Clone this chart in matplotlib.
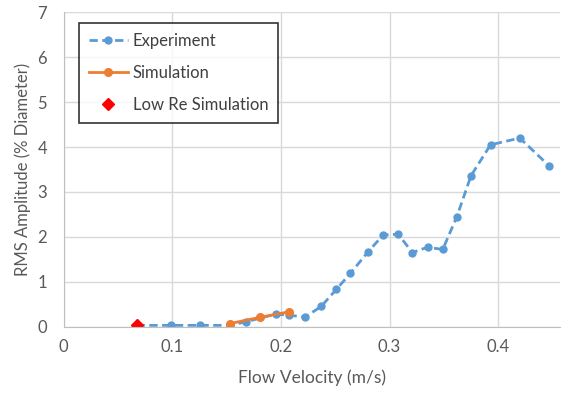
import matplotlib
matplotlib.use("Agg")
import matplotlib.pyplot as plt

exp_x = [0.067, 0.099, 0.125, 0.153, 0.168, 0.195, 0.207, 0.222, 0.237, 0.251, 0.264,
         0.280, 0.294, 0.308, 0.321, 0.335, 0.349, 0.362, 0.375, 0.393, 0.420, 0.447]
exp_y = [0.03, 0.03, 0.03, 0.03, 0.11, 0.28, 0.26, 0.21, 0.45, 0.83, 1.19,
         1.66, 2.04, 2.06, 1.65, 1.77, 1.72, 2.45, 3.36, 4.05, 4.20, 3.58]
sim_x = [0.153, 0.181, 0.207]
sim_y = [0.07, 0.21, 0.33]
low_x = [0.067]
low_y = [0.04]

plt.rcParams['font.family'] = ['Lato', 'DejaVu Sans']
fig = plt.figure(figsize=(5.61, 3.96), dpi=100)
ax = fig.add_axes([63.8/561, 1-326.7/396, (560-63.8)/561, (326.7-12.3)/396])

ax.plot(exp_x, exp_y, linestyle=(0, (3, 1.6)), color='#5B9BD5', lw=2,
        marker='o', ms=5, label='Experiment')
ax.plot(sim_x, sim_y, '-', color='#ED7D31', lw=2, marker='o', ms=5.5, label='Simulation')
ax.plot(low_x, low_y, linestyle='none', marker='D', color='#FF0000', ms=6,
        label='Low Re Simulation')

ax.set_xlim(0, 0.457)
ax.set_ylim(0, 7)
ax.set_xticks([0, 0.1, 0.2, 0.3, 0.4])
ax.set_xticklabels(['0', '0.1', '0.2', '0.3', '0.4'])
ax.set_yticks(range(8))
ax.grid(True, color='#D9D9D9', lw=1)
ax.set_axisbelow(True)
for s in ['top', 'right']:
    ax.spines[s].set_visible(False)
for s in ['left', 'bottom']:
    ax.spines[s].set_color('#BFBFBF')
ax.tick_params(length=0, colors='#595959', labelsize=12, pad=9)
ax.tick_params(axis='y', pad=12)
ax.set_xlabel('Flow Velocity (m/s)', fontsize=12.5, color='#595959', labelpad=10)
ax.set_ylabel('RMS Amplitude (% Diameter)', fontsize=12, color='#595959', labelpad=5)

leg = ax.legend(loc='upper left', bbox_to_anchor=(0.031, 0.966), borderaxespad=0,
                fontsize=12, frameon=True, fancybox=False, edgecolor='black',
                labelspacing=0.95, handlelength=2.3, handletextpad=0.3,
                borderpad=0.6, labelcolor='#404040')
leg.get_frame().set_linewidth(1.2)

fig.savefig('out.png', dpi=100)
